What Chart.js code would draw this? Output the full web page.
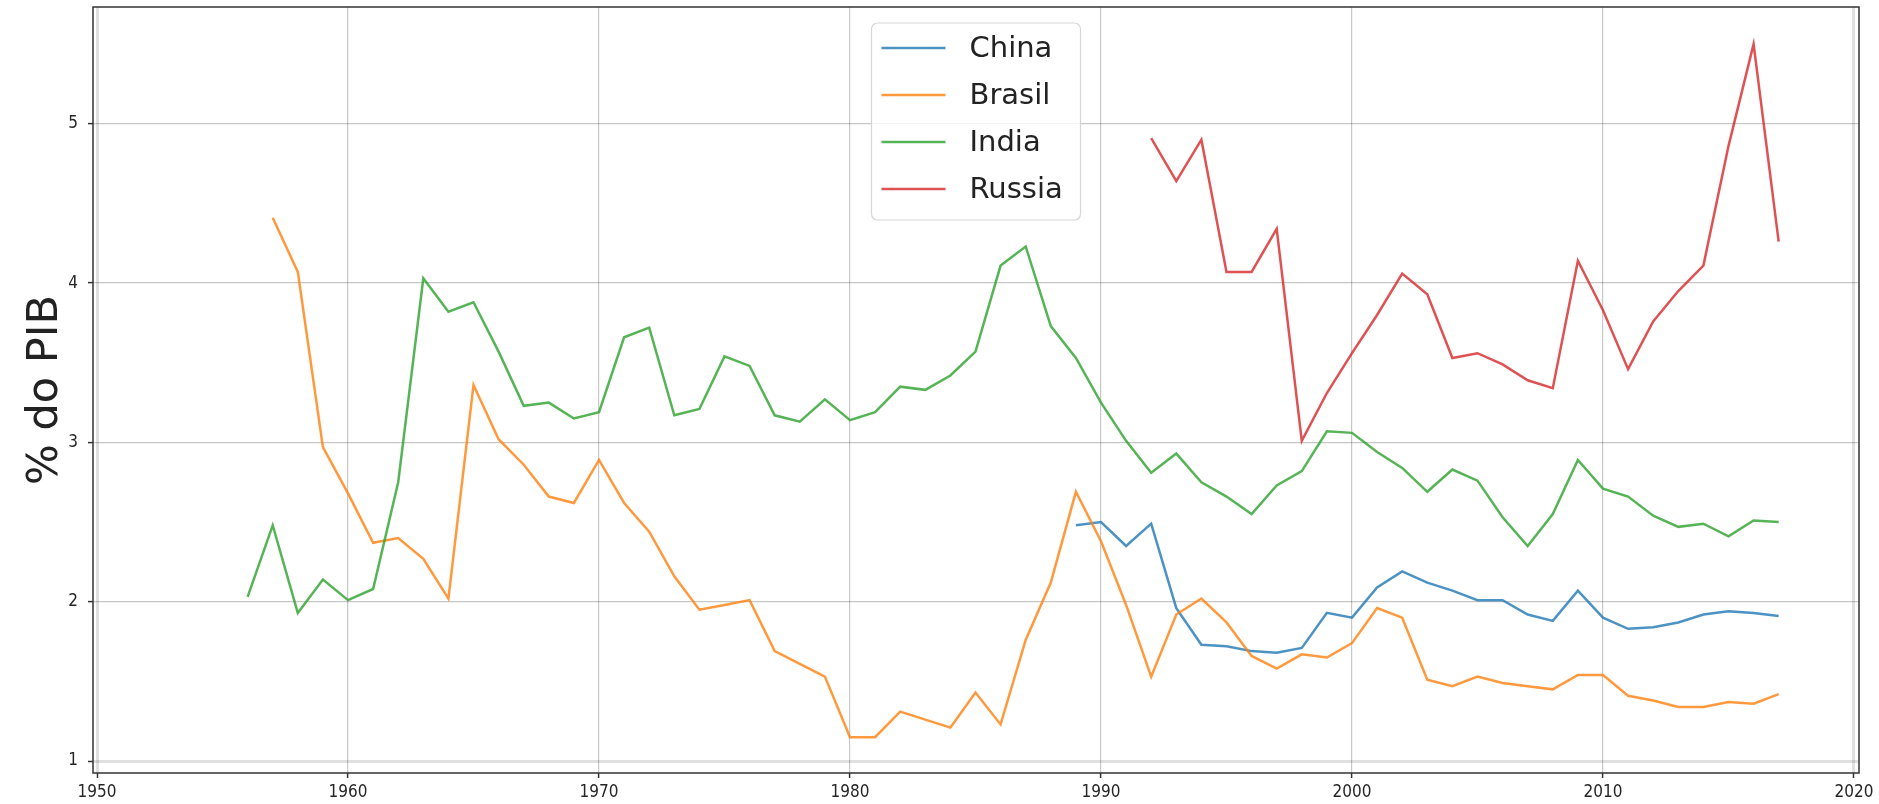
<!DOCTYPE html>
<html>
<head>
<meta charset="utf-8">
<script src="https://cdn.jsdelivr.net/npm/chart.js@4.4.1/dist/chart.umd.min.js"></script>
<style>
    html, body { margin: 0; padding: 0; background: #fff; }
    #wrap { width: 1879px; height: 804px; }
</style>
</head>
<body>
<div id="wrap"><canvas id="gastosChart"></canvas></div>
<script>
// Anos (eixo x)
const years = [1956, 1957, 1958, 1959, 1960, 1961, 1962, 1963, 1964, 1965,
    1966, 1967, 1968, 1969, 1970, 1971, 1972, 1973, 1974, 1975,
    1976, 1977, 1978, 1979, 1980, 1981, 1982, 1983, 1984, 1985,
    1986, 1987, 1988, 1989, 1990, 1991, 1992, 1993, 1994, 1995,
    1996, 1997, 1998, 1999, 2000, 2001, 2002, 2003, 2004, 2005,
    2006, 2007, 2008, 2009, 2010, 2011, 2012, 2013, 2014, 2015,
    2016, 2017];

const china = [null, null, null, null, null, null, null, null, null, null,
    null, null, null, null, null, null, null, null, null, null,
    null, null, null, null, null, null, null, null, null, null,
    null, null, null, 2.48, 2.50, 2.35, 2.49, 1.96, 1.73, 1.72,
    1.69, 1.68, 1.71, 1.93, 1.90, 2.09, 2.19, 2.12, 2.07, 2.01,
    2.01, 1.92, 1.88, 2.07, 1.90, 1.83, 1.84, 1.87, 1.92, 1.94,
    1.93, 1.91];

const brasil = [null, 4.41, 4.07, 2.97, 2.68, 2.37, 2.40, 2.27, 2.02, 3.36,
    3.02, 2.86, 2.66, 2.62, 2.89, 2.62, 2.44, 2.16, 1.95, 1.98,
    2.01, 1.69, 1.61, 1.53, 1.15, 1.15, 1.31, 1.26, 1.21, 1.43,
    1.23, 1.76, 2.12, 2.69, 2.38, 1.98, 1.53, 1.92, 2.02, 1.87,
    1.66, 1.58, 1.67, 1.65, 1.74, 1.96, 1.90, 1.51, 1.47, 1.53,
    1.49, 1.47, 1.45, 1.54, 1.54, 1.41, 1.38, 1.34, 1.34, 1.37,
    1.36, 1.42];

const india = [2.03, 2.48, 1.93, 2.14, 2.01, 2.08, 2.75, 4.03, 3.82, 3.88,
    3.57, 3.23, 3.25, 3.15, 3.19, 3.66, 3.72, 3.17, 3.21, 3.54,
    3.48, 3.17, 3.13, 3.27, 3.14, 3.19, 3.35, 3.33, 3.42, 3.57,
    4.11, 4.23, 3.73, 3.53, 3.25, 3.01, 2.81, 2.93, 2.75, 2.66,
    2.55, 2.73, 2.82, 3.07, 3.06, 2.94, 2.84, 2.69, 2.83, 2.76,
    2.53, 2.35, 2.55, 2.89, 2.71, 2.66, 2.54, 2.47, 2.49, 2.41,
    2.51, 2.50];

const russia = [null, null, null, null, null, null, null, null, null, null,
    null, null, null, null, null, null, null, null, null, null,
    null, null, null, null, null, null, null, null, null, null,
    null, null, null, null, null, null, 4.91, 4.64, 4.90, 4.07,
    4.07, 4.34, 3.01, 3.31, 3.56, 3.80, 4.06, 3.93, 3.53, 3.56,
    3.49, 3.39, 3.34, 4.14, 3.83, 3.46, 3.76, 3.95, 4.11, 4.86,
    5.50, 4.26];

const seriesNames = ['China', 'Brasil', 'India', 'Russia'];
const seriesColors = ['rgba(31,119,180,0.8)', 'rgba(255,127,14,0.8)',
    'rgba(44,160,44,0.8)', 'rgba(214,39,40,0.8)'];

const xTicks = [1950, 1960, 1970, 1980, 1990, 2000, 2010, 2020];
const yTicks = [1, 2, 3, 4, 5];

function toPoints(values) {
    return years.map((year, i) => ({ x: year, y: values[i] }));
}

const allSeries = [china, brasil, india, russia];

// Moldura em volta da área do gráfico
const framePlugin = {
    id: 'frame',
    afterDraw(chart) {
        const { ctx, chartArea } = chart;
        ctx.save();
        ctx.strokeStyle = '#333';
        ctx.lineWidth = 1.5;
        ctx.strokeRect(chartArea.left, chartArea.top,
            chartArea.right - chartArea.left, chartArea.bottom - chartArea.top);
        ctx.restore();
    }
};

// Legenda dentro do gráfico, centralizada no topo (estilo matplotlib)
const legendBoxPlugin = {
    id: 'legendBox',
    afterDatasetsDraw(chart) {
        const { ctx, chartArea } = chart;
        const boxW = 209, boxH = 197;
        const left = (chartArea.left + chartArea.right) / 2 - boxW / 2;
        const top = chartArea.top + 16;

        ctx.save();
        ctx.beginPath();
        ctx.roundRect(left, top, boxW, boxH, 6);
        ctx.fillStyle = 'rgba(255,255,255,0.8)';
        ctx.fill();
        ctx.strokeStyle = 'rgba(204,204,204,0.8)';
        ctx.lineWidth = 1.2;
        ctx.stroke();

        ctx.font = '29px "DejaVu Sans"';
        ctx.textBaseline = 'middle';
        chart.data.datasets.forEach((ds, i) => {
            const y = top + 25 + i * 47;
            ctx.strokeStyle = ds.borderColor;
            ctx.lineWidth = 2.5;
            ctx.beginPath();
            ctx.moveTo(left + 10, y);
            ctx.lineTo(left + 74, y);
            ctx.stroke();
            ctx.fillStyle = '#222';
            ctx.fillText(ds.label, left + 98, y + 1);
        });
        ctx.restore();
    }
};

function edgeGrid(edgeValues) {
    return {
        color: (c) => edgeValues.includes(c.tick && c.tick.value) ? 'rgba(0,0,0,0.12)' : 'rgba(0,0,0,0.22)',
        lineWidth: (c) => edgeValues.includes(c.tick && c.tick.value) ? 3 : 1.2,
        drawTicks: true,
        tickLength: 5,
        tickColor: '#333',
        tickWidth: 1.5
    };
}

const ctx = document.getElementById('gastosChart').getContext('2d');
new Chart(ctx, {
    type: 'line',
    data: {
        datasets: seriesNames.map((name, i) => ({
            label: name,
            data: toPoints(allSeries[i]),
            borderColor: seriesColors[i],
            backgroundColor: seriesColors[i],
            borderWidth: 2.5,
            pointRadius: 0,
            tension: 0,
            fill: false,
            spanGaps: false,
            order: seriesNames.length - i
        }))
    },
    options: {
        responsive: true,
        maintainAspectRatio: false,
        devicePixelRatio: 1,
        animation: false,
        layout: {
            padding: { left: 0, right: 20, top: 7, bottom: 0 }
        },
        scales: {
            x: {
                type: 'linear',
                min: 1949.84,
                max: 2020.2,
                afterFit: (scale) => {
                    scale.height = 31;
                    scale.paddingLeft = 0;
                    scale.paddingRight = 0;
                },
                afterBuildTicks: (scale) => { scale.ticks = xTicks.map(v => ({ value: v })); },
                grid: edgeGrid([1950, 2020]),
                border: { display: false },
                ticks: {
                    padding: 4,
                    color: '#262626',
                    font: { family: '"DejaVu Sans Condensed", "DejaVu Sans"', size: 17 },
                    maxRotation: 0,
                    autoSkip: false,
                    callback: (value) => String(value)
                }
            },
            y: {
                min: 0.925,
                max: 5.733,
                afterFit: (scale) => {
                    scale.width = 93;
                    scale.paddingTop = 0;
                    scale.paddingBottom = 0;
                },
                afterBuildTicks: (scale) => { scale.ticks = yTicks.map(v => ({ value: v })); },
                grid: edgeGrid([1]),
                border: { display: false },
                title: {
                    display: true,
                    text: '% do PIB',
                    color: '#222',
                    font: { family: '"DejaVu Sans"', size: 43, lineHeight: 1 },
                    padding: { top: 24, bottom: 0 }
                },
                ticks: {
                    padding: 10,
                    color: '#262626',
                    font: { family: '"DejaVu Sans Condensed", "DejaVu Sans"', size: 17 },
                    callback: (value) => String(value)
                }
            }
        },
        plugins: {
            legend: { display: false },
            tooltip: { enabled: false }
        }
    },
    plugins: [legendBoxPlugin, framePlugin]
});
</script>
</body>
</html>
